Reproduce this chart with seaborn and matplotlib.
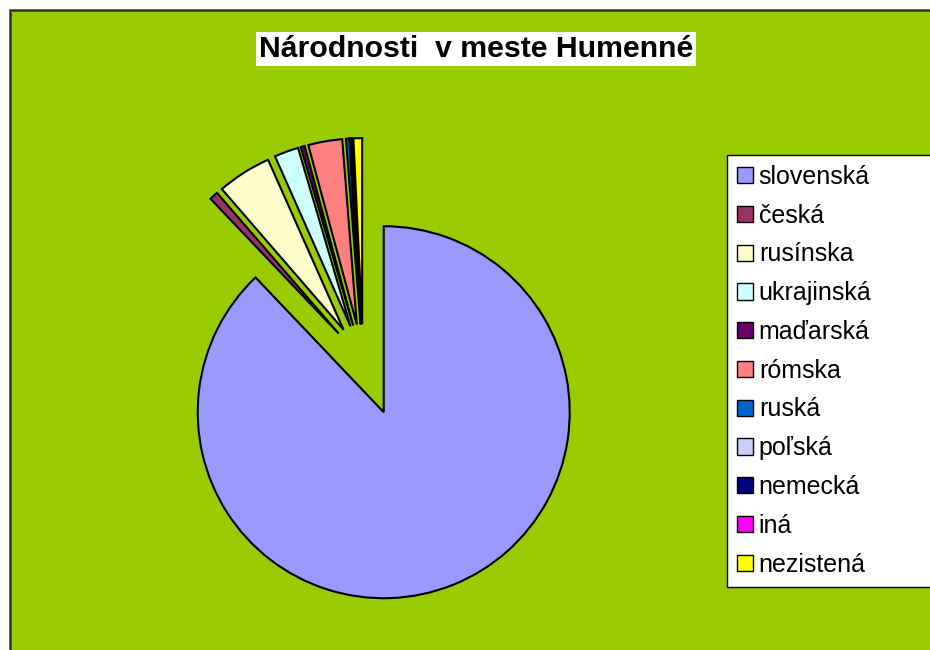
import matplotlib
matplotlib.use("Agg")
import matplotlib.pyplot as plt
from matplotlib.patches import Rectangle, Patch
import seaborn as sns

# ========================
# Data (census shares, %)
# ========================
nations = ["slovenská", "česká", "rusínska", "ukrajinská", "maďarská", "rómska",
           "ruská", "poľská", "nemecká", "iná", "nezistená"]
shares = [87.9, 0.75, 4.7, 2.1, 0.35, 2.95, 0.3, 0.05, 0.05, 0.1, 0.75]
colors = ["#9999FF", "#993366", "#FFFFCC", "#CCFFFF", "#660066", "#FF8080",
          "#0066CC", "#CCCCFF", "#000080", "#FF00FF", "#FFFF00"]
explode = [0.30] + [0.195] * (len(nations) - 1)

title = "Národnosti  v meste Humenné"

sns.set_theme(style="white")
plt.rcParams["font.family"] = ["Liberation Sans", "DejaVu Sans"]

W, H = 930, 650
fig = plt.figure(figsize=(W / 100, H / 100), dpi=100)
fig.patch.set_facecolor("white")
ax = fig.add_axes([0, 0, 1, 1])

# green chart area with dark border (top / left visible)
ax.add_patch(Rectangle((10 / W, -0.05), 1.0, 1 - 10 / H + 0.05,
                       transform=ax.transAxes, facecolor="#99CC00",
                       edgecolor="#333333", linewidth=1.8, zorder=-10))

wedges, _ = ax.pie(shares, colors=colors, explode=explode, startangle=90,
                   counterclock=False, radius=1,
                   wedgeprops=dict(edgecolor="black", linewidth=1.5))

# 1 data unit = 186 px, pie centre at (363, 360) px
r_px = 186.0
cx, cy = 363.0, 360.4
ax.set_xlim(-cx / r_px, (W - cx) / r_px)
ax.set_ylim(-(H - cy) / r_px, cy / r_px)
ax.set_aspect("equal")
ax.axis("off")

# title in white box
fig.text(476 / W, 1 - 49 / H, title, ha="center", va="center",
         fontsize=21.8, fontweight="bold", color="black",
         bbox=dict(facecolor="white", edgecolor="none", pad=2.5))

# legend
handles = [Patch(facecolor=c, edgecolor="black", linewidth=1.0) for c in colors]
leg = fig.legend(handles, nations, loc="upper left",
                 bbox_to_anchor=(727 / W, 1 - 588 / H, 0.25, (588 - 155) / H),
                 mode="expand", fontsize=18, frameon=True, fancybox=False,
                 handlelength=0.62, handleheight=0.62, handletextpad=0.25,
                 labelspacing=0.59, borderpad=0.4, borderaxespad=0,
                 labelcolor="black")
leg.get_frame().set_edgecolor("black")
leg.get_frame().set_linewidth(1.0)
leg.get_frame().set_facecolor("white")
leg.get_frame().set_alpha(1)

plt.savefig("out.png", dpi=100, facecolor=fig.get_facecolor())
plt.close()
